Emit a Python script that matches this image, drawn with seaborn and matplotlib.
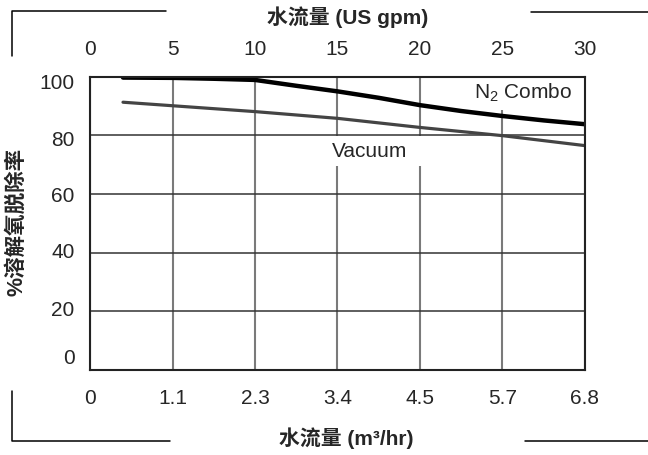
import matplotlib
matplotlib.use("Agg")
import matplotlib.pyplot as plt
from matplotlib.lines import Line2D
from matplotlib.transforms import ScaledTranslation
import seaborn as sns
import pandas as pd

# ---- data ----
gpm_n2 = [2, 5, 7.5, 10, 12.5, 15, 17.5, 20, 22.5, 25, 27.5, 30]
n2_combo = [99.7, 99.6, 99.3, 98.9, 96.9, 95.0, 92.8, 90.3, 88.3, 86.6, 85.1, 83.8]
gpm_vac = [2, 5, 10, 15, 20, 25, 30]
vacuum = [91.3, 90.1, 88.1, 85.8, 82.7, 79.9, 76.5]

top_ticks = [0, 5, 10, 15, 20, 25, 30]
top_labels = ["0", "5", "10", "15", "20", "25", "30"]
bottom_labels = ["0", "1.1", "2.3", "3.4", "4.5", "5.7", "6.8"]
y_ticks = [0, 20, 40, 60, 80, 100]
y_labels = ["0", "20", "40", "60", "80", "100"]

title_top = "水流量 (US gpm)"
title_bottom = "水流量 (m³/hr)"
y_title = "%溶解氧脱除率"

df_n2 = pd.DataFrame({"gpm": gpm_n2, "val": n2_combo})
df_vac = pd.DataFrame({"gpm": gpm_vac, "val": vacuum})

sns.set_style("white")
plt.rcParams["font.family"] = ["Liberation Sans", "Noto Sans CJK SC", "DejaVu Sans"]
plt.rcParams["mathtext.fontset"] = "custom"
plt.rcParams["mathtext.rm"] = "Liberation Sans"
plt.rcParams["mathtext.default"] = "regular"

W, H = 648, 455
fig = plt.figure(figsize=(W / 100, H / 100), dpi=100)
L, R, T, B = 90, 585, 76.7, 370
ax = fig.add_axes([L / W, 1 - B / H, (R - L) / W, (B - T) / H])

sns.lineplot(data=df_n2, x="gpm", y="val", ax=ax, color="black", lw=3.2, zorder=4)
sns.lineplot(data=df_vac, x="gpm", y="val", ax=ax, color="#444444", lw=2.3, zorder=4)

ax.set_xlim(0, 30)
ax.set_ylim(0, 100)
ax.set_xlabel("")
ax.set_ylabel("")

TICK_FS = 15
ax.set_xticks(top_ticks)
ax.set_xticklabels(bottom_labels, fontsize=TICK_FS)
ax.set_yticks(y_ticks)
ax.set_yticklabels(y_labels, fontsize=TICK_FS)
ax.grid(axis="x", color="#7a7a7a", lw=1.5, zorder=0.5)
ax.set_axisbelow(True)
for yv in y_ticks[1:-1]:
    ax.axhline(yv, color="#333333", lw=1.1, zorder=2.5)

ax.tick_params(axis="x", length=0, pad=14)
ax.tick_params(axis="y", length=0, pad=11)
for sp in ax.spines.values():
    sp.set_color("#222222")
    sp.set_linewidth(1.5)
    sp.set_zorder(5)

# per-label vertical offsets of y tick labels (px, positive = up)
offs = [13, 3, 2, 0, -3, -5]
for lab, dy in zip(ax.get_yticklabels(), offs):
    lab.set_transform(lab.get_transform() + ScaledTranslation(0, dy / 100, fig.dpi_scale_trans))

ax2 = ax.twiny()
ax2.set_xlim(0, 30)
ax2.set_xticks(top_ticks)
ax2.set_xticklabels(top_labels, fontsize=TICK_FS)
ax2.tick_params(axis="x", length=0, pad=13)
for sp in ax2.spines.values():
    sp.set_visible(False)

# labels on the lines
box = dict(boxstyle="square,pad=0.75", facecolor="white", edgecolor="none", mutation_aspect=0.35)
ax.text(29.2, 94.4, "N$_2$ Combo", fontsize=15, ha="right", va="center", bbox=box, zorder=2)
ax.text(16.97, 74.6, "Vacuum", fontsize=15, ha="center", va="center", bbox=box, zorder=2)

# titles
fig.text(348 / W, 1 - 17 / H, title_top, fontsize=15, fontweight="bold", ha="center", va="center")
fig.text(346 / W, 1 - 438 / H, title_bottom, fontsize=15, fontweight="bold", ha="center", va="center")
fig.text(17 / W, 1 - 222 / H, y_title, fontsize=15.5, fontweight="bold", rotation=90,
         ha="center", va="center")

# decorative bracket lines
def seg(xs, ys):
    fig.add_artist(Line2D([x / W for x in xs], [1 - y / H for y in ys],
                          transform=fig.transFigure, color="black", lw=1.1))

seg([12, 12, 166], [56, 11, 11])
seg([531, 648], [12, 12])
seg([12, 12, 170], [391, 441, 441])
seg([525, 648], [441, 441])

fig.savefig("out.png", dpi=100, facecolor="white")
